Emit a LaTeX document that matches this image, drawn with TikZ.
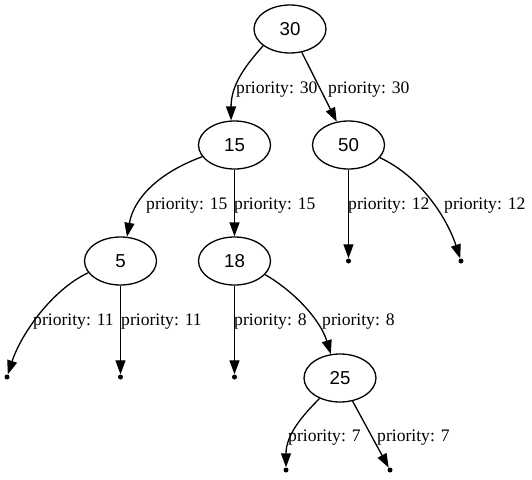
\documentclass[tikz,border=0pt]{standalone}
\usepackage{fontspec}
\setmainfont{Liberation Serif}
\newfontfamily\keyfont{Liberation Sans}
\usetikzlibrary{shapes.geometric,arrows.meta}
\tikzset{
    key/.style={draw, ellipse, line width=1.3pt, minimum width=72pt, minimum height=48pt, inner sep=0pt, font=\keyfont\fontsize{18.7}{22}\selectfont},
    leaf/.style={circle, fill, inner sep=0pt, minimum size=5pt},
    prio/.style={anchor=base west, inner sep=0pt, font=\fontsize{17.6}{21}\selectfont},
    edge/.style={line width=1.3pt, -{Triangle[length=14pt,width=10pt]}}
}

\begin{document}
\begin{tikzpicture}[x=1pt, y=-1pt]
    \useasboundingbox (0,0) rectangle (532,479);
    \node [key] (n30) at (290,29) {30};
    \node [key] (n15) at (234.5,145) {15};
    \node [key] (n50) at (348.5,145) {50};
    \node [key] (n5) at (120.5,261) {5};
    \node [key] (n18) at (234.5,261) {18};
    \node [key] (n25) at (340,378) {25};
    \node [leaf] (p5a) at (7,377) {};
    \node [leaf] (p5b) at (120.5,377) {};
    \node [leaf] (p18) at (234.5,377) {};
    \node [leaf] (p50a) at (348.5,261) {};
    \node [leaf] (p50b) at (461,261) {};
    \node [leaf] (p25a) at (286,470) {};
    \node [leaf] (p25b) at (390,470) {};
    \draw [edge] (n30.212) .. controls +(-228:28) and +(-90:35) .. (n15.98);
    \draw [edge] (n30) -- (n50);
    \draw [edge] (n15.200) .. controls +(-200:45) and +(-80:40) .. (n5.75);
    \draw [edge] (n15) -- (n18);
    \draw [edge] (n50) -- (p50a);
    \draw [edge] (n50.-22) .. controls +(25:45) and +(-108:45) .. (p50b);
    \draw [edge] (n5.200) .. controls +(-205:40) and +(-72:45) .. (p5a);
    \draw [edge] (n5) -- (p5b);
    \draw [edge] (n18) -- (p18);
    \draw [edge] (n18.-24) .. controls +(30:35) and +(-107:35) .. (n25.111);
    \draw [edge] (n25.225) .. controls +(-225:25) and +(-90:35) .. (p25a);
    \draw [edge] (n25) -- (p25b);
    \node [prio] (l30a) at (236,93) {priority: 30};
    \node [prio] (l30b) at (328,93) {priority: 30};
    \node [prio] (l15a) at (146,209) {priority: 15};
    \node [prio] (l15b) at (234,209) {priority: 15};
    \node [prio] (l50a) at (348,209) {priority: 12};
    \node [prio] (l50b) at (444,209) {priority: 12};
    \node [prio] (l5a) at (33,325) {priority: 11};
    \node [prio] (l5b) at (121,325) {priority: 11};
    \node [prio] (l18a) at (234,325) {priority: 8};
    \node [prio] (l18b) at (322,325) {priority: 8};
    \node [prio] (l25a) at (288,441) {priority: 7};
    \node [prio] (l25b) at (377,441) {priority: 7};
\end{tikzpicture}
\end{document}
